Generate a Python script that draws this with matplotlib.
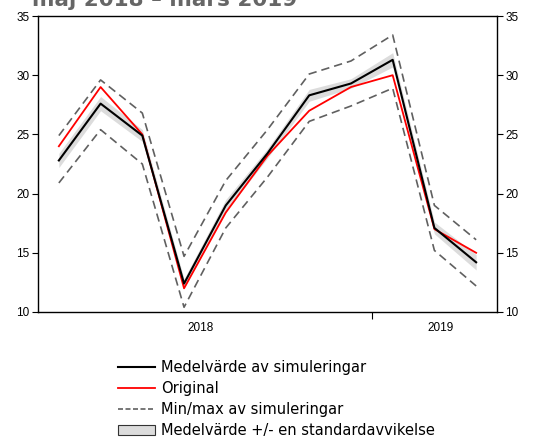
import numpy as np
import matplotlib
matplotlib.use("Agg")
import matplotlib.pyplot as plt
from matplotlib.lines import Line2D
from matplotlib.patches import Patch

# maj 2018 - mars 2019, monthly
months = ['maj', 'jun', 'jul', 'aug', 'sep', 'okt', 'nov', 'dec', 'jan', 'feb', 'mar']
years = ['2018', '2019']
mean_sim = [22.8, 27.6, 24.9, 12.4, 19.0, 23.4, 28.3, 29.3, 31.3, 17.1, 14.2]
original = [24.0, 29.0, 25.0, 12.0, 18.4, 23.2, 27.0, 29.0, 30.0, 17.0, 15.0]
max_sim = [24.9, 29.6, 26.8, 14.7, 21.1, 25.4, 30.1, 31.2, 33.4, 19.0, 16.1]
min_sim = [20.9, 25.4, 22.5, 10.4, 17.1, 21.4, 26.1, 27.4, 28.9, 15.2, 12.2]
std_sim = [0.6, 0.6, 0.5, 0.4, 0.5, 0.4, 0.5, 0.4, 0.6, 0.5, 0.65]

labels = ['Medelvärde av simuleringar', 'Original', 'Min/max av simuleringar',
          'Medelvärde +/- en standardavvikelse']

x = np.arange(len(months))
mean_sim = np.array(mean_sim)
std_sim = np.array(std_sim)

fig = plt.figure(figsize=(5.33, 4.37), dpi=100)
ax = fig.add_axes([38 / 533, 1 - 312 / 437, 459 / 533, 296 / 437])

band_col = '#dcdcdc'
dash_col = '#606060'

ax.fill_between(x, mean_sim - std_sim, mean_sim + std_sim, color=band_col, lw=0)
ax.plot(x, max_sim, color=dash_col, lw=1.2, dashes=(5, 3))
ax.plot(x, min_sim, color=dash_col, lw=1.2, dashes=(5, 3))
ax.plot(x, original, color='red', lw=1.3)
ax.plot(x, mean_sim, color='black', lw=1.5)

ax.set_xlim(-0.5, len(months) - 0.5)
ax.set_ylim(10, 35)
ax.set_yticks([10, 15, 20, 25, 30, 35])
ax.tick_params(axis='y', which='both', left=True, right=True, labelleft=True,
               labelright=True, direction='out', length=4, width=0.8, pad=2,
               labelsize=8.5)
for lab in ax.get_yticklabels():
    lab.set_family('Liberation Sans')

# year separator and year labels
ax.set_xticks([7.5])
ax.set_xticklabels([])
ax.tick_params(axis='x', which='major', direction='out', length=5, width=0.8)
ax.set_xticks([3.4, 9.15], minor=True)
ax.set_xticklabels(years, minor=True, family='Liberation Sans', fontsize=8.5)
ax.tick_params(axis='x', which='minor', length=0, pad=7)
for sp in ax.spines.values():
    sp.set_linewidth(1.0)

# title sits mostly above the picture edge, as in the original
fig.text(32 / 533, 1 - 6 / 437, 'maj 2018 – mars 2019', fontsize=15.5,
         fontweight='bold', color='#666666', va='baseline', ha='left')

handles = [
    Line2D([], [], color='black', lw=1.5),
    Line2D([], [], color='red', lw=1.3),
    Line2D([], [], color=dash_col, lw=1.2, dashes=(3, 1.5)),
    Patch(facecolor=band_col, edgecolor='#333333', lw=0.8),
]
fig.legend(handles, labels, loc='upper left', bbox_to_anchor=(118 / 533, 1 - 360 / 437),
           frameon=False, fontsize=10.5, handlelength=2.55, handletextpad=0.4,
           labelspacing=0.42, borderpad=0, borderaxespad=0)

fig.savefig('out.png', dpi=100)
